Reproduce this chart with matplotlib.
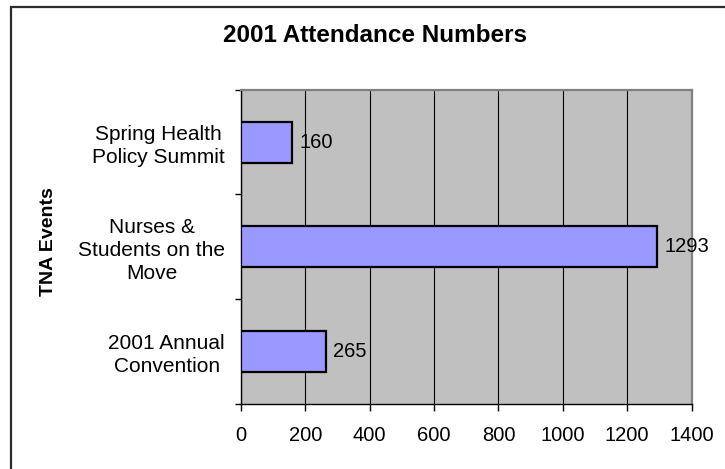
import matplotlib
matplotlib.use('Agg')
import matplotlib.pyplot as plt
from matplotlib.patches import Rectangle

plt.rcParams['font.family'] = ['Liberation Sans', 'DejaVu Sans']

# Data (bottom to top as drawn)
events = ['2001 Annual\nConvention', 'Nurses &\nStudents on the\nMove', 'Spring Health\nPolicy Summit']
attendance = [265, 1293, 160]
x_ticks = [0, 200, 400, 600, 800, 1000, 1200, 1400]

W, H = 725, 469
fig = plt.figure(figsize=(W / 100, H / 100), dpi=100)

# outer chart border (runs off the right/bottom edge of the picture)
fig.patches.append(Rectangle((11 / W, -0.1), 1.2, 1 - 7.5 / H + 0.1,
                             transform=fig.transFigure, fill=False,
                             edgecolor='#2b2b2b', linewidth=1.6))

left, right, top, bottom = 241, 691.5, 90, 403.5
ax = fig.add_axes([left / W, 1 - bottom / H, (right - left) / W, (bottom - top) / H])
ax.set_facecolor('#C0C0C0')

ypos = list(range(len(events)))
ax.barh(ypos, attendance, height=0.39, color='#9999FF', edgecolor='black',
        linewidth=1.6, zorder=3)

ax.set_xlim(0, 1400)
ax.set_ylim(-0.5, len(events) - 0.5)
ax.set_xticks(x_ticks)
ax.set_xticklabels([str(t) for t in x_ticks])
ax.grid(axis='x', color='black', linewidth=0.8, zorder=1)

# y ticks at category boundaries, labels in between
ax.set_yticks([i - 0.5 for i in range(len(events) + 1)])
ax.set_yticklabels([])
ax.set_yticks(ypos, minor=True)
ax.set_yticklabels(events, minor=True, fontsize=15, multialignment='center',
                   linespacing=1.25)
ax.tick_params(axis='y', which='major', direction='out', length=4.5, width=1)
ax.tick_params(axis='y', which='minor', length=0, pad=11.5)
ax.tick_params(axis='x', direction='out', length=5, width=1, labelsize=14.5, pad=11)

for s in ['left', 'bottom']:
    ax.spines[s].set_color('black')
    ax.spines[s].set_linewidth(1.0)
for s in ['top', 'right']:
    ax.spines[s].set_color('#808080')
    ax.spines[s].set_linewidth(1.6)

# value labels
for y, v in zip(ypos, attendance):
    ax.annotate(str(v), (v, y), xytext=(5, 0), textcoords='offset points',
                ha='left', va='center', fontsize=14.5)

fig.text(375.5 / W, 1 - 36 / H, '2001 Attendance Numbers', ha='center',
         va='center', fontsize=17.5, fontweight='bold')
fig.text(49 / W, 1 - 241.5 / H, 'TNA Events', ha='center', va='center',
         rotation=90, fontsize=14, fontweight='bold')

fig.savefig('out.png', dpi=100)
